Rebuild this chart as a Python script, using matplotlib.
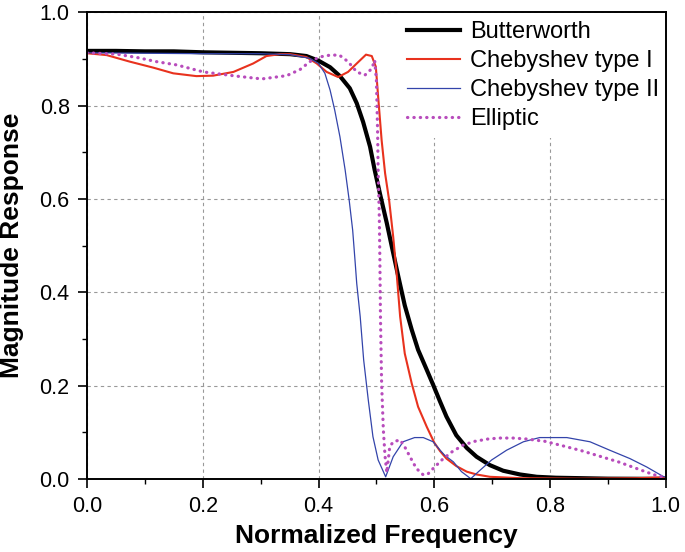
import matplotlib
matplotlib.use("Agg")
import matplotlib.pyplot as plt

plt.rcParams['font.family'] = ['Liberation Sans', 'DejaVu Sans']

# Butterworth
bw_x = [0.00, 0.05, 0.10, 0.15, 0.20, 0.25, 0.30, 0.351, 0.379, 0.400, 0.420, 0.437, 0.454,
        0.466, 0.477, 0.489, 0.497, 0.506, 0.518, 0.528, 0.538, 0.549, 0.561, 0.572, 0.587,
        0.598, 0.610, 0.621, 0.638, 0.656, 0.673, 0.696, 0.719, 0.748, 0.777, 0.810, 0.900, 1.000]
bw_y = [0.917, 0.917, 0.916, 0.916, 0.914, 0.913, 0.912, 0.910, 0.906, 0.896, 0.882, 0.863, 0.837,
        0.805, 0.765, 0.712, 0.662, 0.612, 0.548, 0.490, 0.433, 0.372, 0.320, 0.277, 0.234,
        0.202, 0.166, 0.134, 0.094, 0.067, 0.048, 0.030, 0.018, 0.010, 0.005, 0.003, 0.001, 0.0005]

# Chebyshev type I
c1_x = [0.000, 0.034, 0.074, 0.115, 0.149, 0.189, 0.218, 0.253, 0.287, 0.310, 0.333, 0.351,
        0.379, 0.397, 0.414, 0.434, 0.451, 0.466, 0.482, 0.492, 0.499, 0.503, 0.509, 0.515,
        0.522, 0.529, 0.535, 0.541, 0.549, 0.561, 0.572, 0.587, 0.600, 0.610, 0.621, 0.638,
        0.656, 0.673, 0.696, 0.750, 0.850, 0.950, 1.000]
c1_y = [0.912, 0.908, 0.894, 0.881, 0.869, 0.863, 0.864, 0.872, 0.890, 0.906, 0.910, 0.910,
        0.904, 0.890, 0.872, 0.861, 0.872, 0.890, 0.909, 0.906, 0.883, 0.819, 0.726, 0.655,
        0.597, 0.519, 0.440, 0.348, 0.269, 0.205, 0.155, 0.112, 0.078, 0.060, 0.044, 0.028,
        0.016, 0.010, 0.005, 0.002, 0.001, 0.002, 0.004]

# Chebyshev type II
c2_x = [0.000, 0.100, 0.200, 0.300, 0.351, 0.385, 0.400, 0.411, 0.420, 0.428, 0.437, 0.446,
        0.453, 0.459, 0.463, 0.466, 0.472, 0.478, 0.486, 0.494, 0.503, 0.516, 0.529, 0.546,
        0.566, 0.581, 0.598, 0.610, 0.618, 0.633, 0.647, 0.663, 0.679, 0.699, 0.725, 0.754,
        0.782, 0.829, 0.869, 0.903, 0.938, 0.967, 0.995, 1.000]
c2_y = [0.913, 0.912, 0.911, 0.911, 0.909, 0.901, 0.890, 0.869, 0.833, 0.790, 0.733, 0.662,
        0.597, 0.533, 0.469, 0.419, 0.348, 0.255, 0.169, 0.091, 0.041, 0.005, 0.048, 0.080,
        0.089, 0.089, 0.080, 0.062, 0.051, 0.037, 0.016, 0.001, 0.019, 0.041, 0.062, 0.080,
        0.089, 0.089, 0.080, 0.062, 0.044, 0.026, 0.006, 0.004]

# Elliptic
el_x = [0.000, 0.051, 0.086, 0.120, 0.155, 0.201, 0.258, 0.302, 0.345, 0.368, 0.385, 0.402,
        0.420, 0.436, 0.451, 0.466, 0.480, 0.492, 0.497, 0.500, 0.502, 0.503, 0.505, 0.506,
        0.507, 0.509, 0.512, 0.515, 0.518, 0.523, 0.529, 0.541, 0.549, 0.558, 0.569, 0.581,
        0.589, 0.595, 0.613, 0.630, 0.650, 0.670, 0.693, 0.713, 0.736, 0.759, 0.791, 0.823,
        0.854, 0.886, 0.918, 0.949, 0.978, 0.993, 1.000]
el_y = [0.913, 0.910, 0.903, 0.894, 0.887, 0.872, 0.863, 0.857, 0.864, 0.877, 0.894, 0.904,
        0.908, 0.908, 0.894, 0.872, 0.865, 0.879, 0.897, 0.854, 0.747, 0.662, 0.562, 0.469,
        0.348, 0.205, 0.105, 0.048, 0.014, 0.069, 0.080, 0.084, 0.069, 0.048, 0.023, 0.009,
        0.011, 0.019, 0.041, 0.058, 0.073, 0.081, 0.086, 0.088, 0.088, 0.086, 0.081, 0.071,
        0.061, 0.049, 0.037, 0.023, 0.010, 0.005, 0.003]

ticks = [0.0, 0.2, 0.4, 0.6, 0.8, 1.0]
tick_labels = ['0.0', '0.2', '0.4', '0.6', '0.8', '1.0']

fig = plt.figure(figsize=(6.85, 5.52), dpi=100)
ax = fig.add_axes([0.127, 0.132, 0.845, 0.846])

ax.plot(bw_x, bw_y, color='black', lw=3.0, label='Butterworth', solid_joinstyle='round')
ax.plot(c1_x, c1_y, color='#e8321e', lw=1.5, label='Chebyshev type I')
ax.plot(c2_x, c2_y, color='#3344aa', lw=0.9, label='Chebyshev type II')
ax.plot(el_x, el_y, color='#b84cbc', lw=2.3, linestyle=(0, (0.1, 1.9)),
        dash_capstyle='round', label='Elliptic')

ax.set_xlim(0, 1)
ax.set_ylim(0, 1)
ax.set_xticks(ticks)
ax.set_xticklabels(tick_labels)
ax.set_yticks(ticks)
ax.set_yticklabels(tick_labels)
ax.set_xticks([0.1, 0.3, 0.5, 0.7, 0.9], minor=True)
ax.set_yticks([0.1, 0.3, 0.5, 0.7, 0.9], minor=True)
ax.tick_params(which='major', direction='out', length=6.5, width=1.2, labelsize=15.5, pad=6)
ax.tick_params(which='minor', direction='out', length=3.5, width=1.0)
ax.grid(True, which='major', color='#999999', linestyle=(0, (3, 3)), lw=0.8)
ax.set_axisbelow(True)
for s in ax.spines.values():
    s.set_linewidth(1.4)
    s.set_zorder(3)

ax.set_xlabel('Normalized Frequency', fontsize=19, fontweight='bold', labelpad=5)
ax.set_ylabel('Magnitude Response', fontsize=19, fontweight='bold', labelpad=11)

leg = ax.legend(loc='upper left', bbox_to_anchor=(0.538, 0.998), fontsize=17,
                frameon=True, fancybox=False, edgecolor='none', facecolor='white',
                framealpha=1, borderpad=0.35, borderaxespad=0, handlelength=2.25,
                handletextpad=0.42, labelspacing=0.29)
leg.set_zorder(2.6)

fig.savefig('out.png', dpi=100)
